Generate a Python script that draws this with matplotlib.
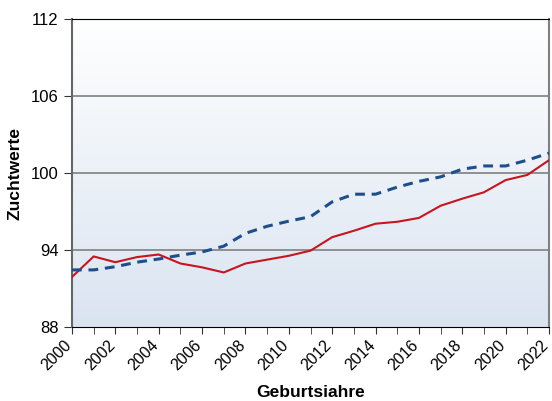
import numpy as np
import matplotlib
matplotlib.use('Agg')
from matplotlib import pyplot as plt
from matplotlib.colors import LinearSegmentedColormap
from matplotlib.transforms import ScaledTranslation

plt.rcParams['font.family'] = ['Liberation Sans', 'DejaVu Sans']

years = list(range(2000, 2023))
red_values = [91.9, 93.5, 93.05, 93.45, 93.65, 92.95, 92.65, 92.25, 92.95, 93.25,
              93.55, 93.95, 95.0, 95.5, 96.05, 96.2, 96.5, 97.45, 98.0, 98.5,
              99.45, 99.85, 101.0]
blue_values = [92.45, 92.45, 92.7, 93.05, 93.3, 93.6, 93.85, 94.3, 95.3, 95.85,
               96.25, 96.6, 97.75, 98.35, 98.35, 98.9, 99.35, 99.7, 100.3, 100.55,
               100.55, 101.0, 101.55]
y_ticks = [88, 94, 100, 106, 112]
x_labels = list(range(2000, 2023, 2))

fig = plt.figure(figsize=(5.52, 4.01), dpi=100)
ax = fig.add_axes([0.1304, 0.1845, 0.8642, 0.7681])

# background gradient, white at top to light blue at bottom
cmap = LinearSegmentedColormap.from_list('bg', ['#dae4f1', '#ffffff'])
grad = np.linspace(0, 1, 256).reshape(-1, 1)
ax.imshow(grad, aspect='auto', cmap=cmap, origin='lower',
          extent=[2000, 2022, 88, 112], zorder=0)

for y in y_ticks[1:-1]:
    ax.axhline(y, color='#808080', lw=1.2, zorder=1)

ax.plot(years, red_values, color='#c8141e', lw=1.5, zorder=3)
ax.plot(years, blue_values, color='#1f4e8c', lw=2.2, ls=(0, (3.2, 2.2)), zorder=3)

ax.set_xlim(2000, 2022)
ax.set_ylim(88, 112)
ax.set_yticks(y_ticks)
ax.set_xticks(x_labels)
ax.set_xticks(years, minor=True)
ax.set_xticklabels([str(x) for x in x_labels], rotation=45, ha='right',
                   va='top', rotation_mode='anchor')
ax.tick_params(axis='y', labelsize=12)
ax.tick_params(axis='x', labelsize=11.5)
ax.tick_params(axis='both', which='both', color='#333333', direction='out')
ax.tick_params(axis='x', which='both', length=5)
ax.tick_params(axis='y', length=6)

# nudge rotated labels to the left so the last one stays inside
shift = ScaledTranslation(-8 / 100, 1 / 100, fig.dpi_scale_trans)
for lbl in ax.get_xticklabels():
    lbl.set_transform(lbl.get_transform() + shift)

ax.spines['left'].set_color('#666666')
ax.spines['left'].set_linewidth(1.5)
ax.spines['right'].set_color('#808080')
ax.spines['right'].set_linewidth(1.5)
ax.spines['top'].set_color('#000000')
ax.spines['bottom'].set_color('#000000')

ax.set_ylabel('Zuchtwerte', fontsize=12.5, fontweight='bold', labelpad=6)
ax.set_xlabel('Geburtsiahre', fontsize=12.5, fontweight='bold', labelpad=8)

plt.savefig('out.png', dpi=100)
